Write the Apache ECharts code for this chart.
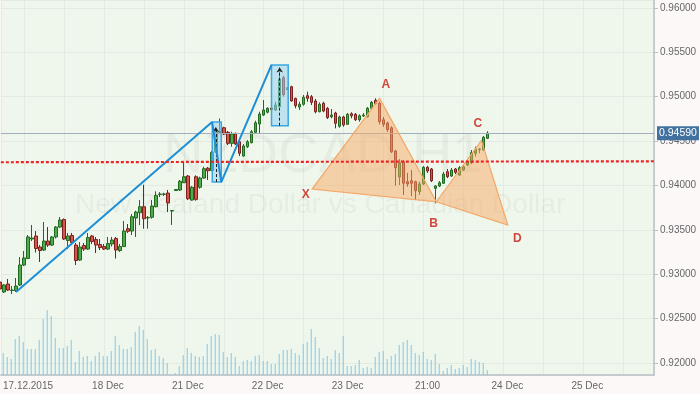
<!DOCTYPE html>
<html><head><meta charset="utf-8">
<script src="https://cdn.jsdelivr.net/npm/echarts@6/dist/echarts.min.js"></script>
<style>html,body{margin:0;padding:0;background:#fcf8f8}#c{width:700px;height:394px}</style>
</head><body><div id="c"></div>
<script>
// ---- data ----
const firstX = 4; // x index of the first (partially visible) H1 bar
const opens = [0.92912,0.92800,0.92890,0.92817,0.92817,0.92879,0.93104,0.93177,0.93397,0.93431,0.93307,0.93273,0.93374,0.93329,0.93420,0.93532,0.93617,0.93380,0.93437,0.93329,0.93160,0.93324,0.93284,0.93431,0.93391,0.93335,0.93312,0.93284,0.93341,0.93403,0.93267,0.93312,0.93513,0.93487,0.93634,0.93693,0.93761,0.93634,0.93642,0.93761,0.93898,0.93901,0.93915,0.93712,0.93944,0.93949,0.94031,0.94107,0.93836,0.94099,0.93980,0.94084,0.94194,0.94169,0.94377,0.94597,0.94651,0.94599,0.94475,0.94588,0.94493,0.94332,0.94437,0.94482,0.94599,0.94693,0.94794,0.94825,0.94873,0.94851,0.94888,0.95215,0.95079,0.95113,0.94982,0.94884,0.94915,0.95012,0.95000,0.94952,0.94831,0.94926,0.94870,0.94775,0.94817,0.94667,0.94772,0.94689,0.94809,0.94802,0.94741,0.94783,0.94775,0.94870,0.94960,0.94926,0.94741,0.94704,0.94651,0.94389,0.94096,0.94268,0.94043,0.94054,0.94043,0.93930,0.94017,0.94205,0.94186,0.93968,0.93994,0.94025,0.94155,0.94107,0.94186,0.94118,0.94174,0.94231,0.94257,0.94363,0.94405,0.94400,0.94532];
const closes = [0.92834,0.92879,0.92822,0.92822,0.92867,0.93104,0.93183,0.93420,0.93408,0.93290,0.93267,0.93374,0.93329,0.93420,0.93532,0.93611,0.93397,0.93431,0.93358,0.93155,0.93307,0.93284,0.93414,0.93369,0.93329,0.93301,0.93284,0.93346,0.93386,0.93273,0.93312,0.93487,0.93484,0.93648,0.93701,0.93761,0.93626,0.93640,0.93769,0.93889,0.93904,0.93904,0.93803,0.93718,0.93955,0.94047,0.94099,0.93851,0.93980,0.93844,0.94084,0.94189,0.94167,0.94372,0.94603,0.94608,0.94580,0.94475,0.94580,0.94467,0.94363,0.94445,0.94493,0.94606,0.94707,0.94805,0.94851,0.94870,0.94854,0.94907,0.95200,0.95023,0.95102,0.94952,0.94899,0.94915,0.94994,0.94982,0.94937,0.94831,0.94915,0.94839,0.94764,0.94794,0.94701,0.94772,0.94682,0.94802,0.94786,0.94741,0.94786,0.94794,0.94870,0.94937,0.94922,0.94719,0.94689,0.94629,0.94381,0.94200,0.94253,0.94025,0.94017,0.94025,0.93941,0.94017,0.94205,0.94163,0.94054,0.93994,0.94031,0.94129,0.94099,0.94174,0.94149,0.94200,0.94212,0.94268,0.94369,0.94408,0.94411,0.94543,0.94590];
const lows = [0.92811,0.92789,0.92811,0.92777,0.92800,0.92867,0.93093,0.93172,0.93374,0.93245,0.93138,0.93262,0.93307,0.93318,0.93403,0.93521,0.93386,0.93284,0.93341,0.93104,0.93149,0.93262,0.93273,0.93341,0.93239,0.93273,0.93273,0.93273,0.93312,0.93177,0.93251,0.93307,0.93465,0.93442,0.93420,0.93555,0.93513,0.93513,0.93626,0.93754,0.93870,0.93881,0.93701,0.93555,0.93938,0.93938,0.94028,0.93836,0.93829,0.93829,0.93964,0.94077,0.94062,0.94164,0.94366,0.94580,0.94569,0.94456,0.94437,0.94456,0.94332,0.94325,0.94422,0.94475,0.94588,0.94588,0.94783,0.94813,0.94851,0.94839,0.94884,0.95000,0.95076,0.94944,0.94870,0.94851,0.94899,0.94944,0.94907,0.94813,0.94825,0.94825,0.94749,0.94757,0.94644,0.94651,0.94662,0.94682,0.94757,0.94727,0.94719,0.94772,0.94764,0.94854,0.94907,0.94689,0.94659,0.94606,0.94366,0.93998,0.94005,0.93893,0.93986,0.93881,0.93836,0.93893,0.94005,0.94141,0.94039,0.93799,0.93983,0.94017,0.94084,0.94096,0.94129,0.94107,0.94164,0.94219,0.94242,0.94325,0.94363,0.94389,0.94524];
const highs = [0.92958,0.92890,0.92946,0.92867,0.92958,0.93194,0.93262,0.93442,0.93555,0.93487,0.93329,0.93589,0.93532,0.93431,0.93543,0.93645,0.93628,0.93465,0.93465,0.93352,0.93363,0.93352,0.93465,0.93442,0.93420,0.93397,0.93341,0.93420,0.93420,0.93420,0.93341,0.93600,0.93566,0.93679,0.93716,0.93836,0.94009,0.93656,0.93836,0.93934,0.93926,0.93918,0.93949,0.93724,0.93960,0.94062,0.94268,0.94118,0.93994,0.94115,0.94099,0.94212,0.94208,0.94389,0.94648,0.94755,0.94662,0.94614,0.94606,0.94595,0.94512,0.94467,0.94512,0.94625,0.94730,0.94831,0.94963,0.94881,0.94876,0.94944,0.95279,0.95237,0.95110,0.95124,0.94989,0.94944,0.95020,0.95057,0.95020,0.94975,0.94937,0.94944,0.94884,0.94862,0.94831,0.94786,0.94786,0.94817,0.94825,0.94817,0.94802,0.94817,0.94884,0.94952,0.94982,0.94944,0.94772,0.94719,0.94667,0.94403,0.94298,0.94287,0.94141,0.94174,0.94054,0.94043,0.94219,0.94219,0.94197,0.94005,0.94050,0.94152,0.94186,0.94197,0.94197,0.94219,0.94231,0.94287,0.94400,0.94437,0.94419,0.94558,0.94611];
const volumeFirstX = 5;
const volumes = [22,18,16,36,39,33,26,26,26,35,56,65,59,37,27,27,29,35,13,24,18,19,14,19,23,19,19,24,39,30,26,26,28,43,49,45,36,25,26,19,17,12,0,2,9,20,27,22,19,18,19,31,39,41,40,
23,18,22,18,9,14,15,14,19,20,14,14,11,11,21,25,25,26,22,20,31,33,46,38,27,17,19,16,25,22,39,9,9,10,15,7,8,7,18,23,24,16,19,21,30,33,35,30,22,20,23,16,15,21,11,4,7,10,6,7,
10,8,16,15,13,12,5];
const xTickValues = [10,30,50,70,90,110,130,150];
const xTickLabels = ['17.12.2015','18 Dec','21 Dec','22 Dec','23 Dec','21:00','24 Dec','25 Dec'];
const lastPrice = 0.94590;
// blue zigzag [x, price]
const zigzag = [[8,0.92800],[57.08,0.94715],[59.38,0.94039],[71.95,0.95358]];
// highlighted boxes [x1, price1, x2, price2]
const boxes = [[57.13,0.94715,59.38,0.94039],[71.95,0.95358,76.13,0.94674]];
// dashed vertical markers [x, priceBottom, priceTop]
const vMarkers = [[58,0.94039,0.94659],[74,0.94674,0.95330]];
// harmonic pattern points
const patX = [82.1,0.93960], patA = [99.0,0.94982], patB = [113.2,0.93817], patC = [124.5,0.94507], patD = [131.1,0.93555];
const triangles = [[patX,patA,patB],[patB,patC,patD]];
const pointLabels = [[80.5,0.93893,'X'],[100.6,0.95132,'A'],[112.5,0.93574,'B'],[123.6,0.94701,'C'],[133.5,0.93400,'D']];
// red dotted trend line [x, price]
const redLine = [[4.2,0.94262],[167.7,0.94273]];

// ---- chart ----
const xMin = 4.2, xMax = 167.7, yMin = 0.918648, yMax = 0.960901;
const FONT = 'Liberation Sans, Arial, sans-serif';
const candleData = opens.map((o,k)=>[firstX+k, o, closes[k], lows[k], highs[k]]);
const volData = volumes.map((v,k)=>[volumeFirstX+k, v]);

const chart = echarts.init(document.getElementById('c'));
chart.setOption({
  animation:false,
  backgroundColor:'#fcf8f8',
  textStyle:{fontFamily:FONT},
  graphic:[
    {type:'text', z:1, x:163, y:157, style:{text:'NZDCAD,H1', fontSize:56, fontFamily:FONT, fill:'rgba(0,0,0,0.04)', align:'left', verticalAlign:'middle'}},
    {type:'text', z:1, x:75, y:205, style:{text:'New Zealand Dollar vs Canadian Dollar', fontSize:28, fontFamily:FONT, fill:'rgba(0,0,0,0.04)', align:'left', verticalAlign:'middle'}}
  ],
  grid:[
    {left:0, right:46, top:0, bottom:19, show:true, backgroundColor:'#eff6eb', borderWidth:0},
    {left:0, right:46, bottom:19, height:100}
  ],
  xAxis:[
    {type:'value', gridIndex:0, min:xMin, max:xMax, minInterval:10, maxInterval:10,
     axisLine:{show:true, lineStyle:{color:'#b9c0c6', width:1.5}}, axisTick:{show:false},
     splitLine:{show:true, lineStyle:{color:'#e3eae1', width:1}},
     axisLabel:{show:true, color:'#666', fontSize:10, fontFamily:FONT, margin:6, padding:[0,0,0,8],
       showMinLabel:false, showMaxLabel:false,
       formatter:v=>{const r=Math.round(v); if(Math.abs(v-r)>1e-6) return ''; const k=xTickValues.indexOf(r); return k<0?'':xTickLabels[k];}}},
    {type:'value', gridIndex:1, min:xMin, max:xMax, show:false}
  ],
  yAxis:[
    {type:'value', gridIndex:0, position:'right', min:yMin, max:yMax, minInterval:0.005, maxInterval:0.005, scale:true,
     axisLine:{show:true, lineStyle:{color:'#b9c0c6', width:1.5}},
     axisTick:{show:true, length:4, lineStyle:{color:'#b9c0c6'}},
     splitLine:{show:true, lineStyle:{color:'#e3eae1', width:1}},
     axisLabel:{color:'#666', fontSize:10, fontFamily:FONT, margin:6, showMinLabel:false, showMaxLabel:false,
       formatter:v=>{const q=v*200; return Math.abs(q-Math.round(q))<1e-6 ? v.toFixed(5) : '';}}},
    {type:'value', gridIndex:1, min:0, max:100, show:false}
  ],
  series:[
    {type:'bar', xAxisIndex:1, yAxisIndex:1, data:volData, barWidth:1, itemStyle:{color:'#85c6ea'}, z:2},
    {type:'candlestick', xAxisIndex:0, yAxisIndex:0, data:candleData, barWidth:3, z:3,
     itemStyle:{color:'#4dab4d', color0:'#d6564a', borderColor:'#1f6a1f', borderColor0:'#7d1f1f', borderWidth:1}},
    {type:'custom', xAxisIndex:0, yAxisIndex:0, z:4, data:boxes,
     renderItem:(params, api)=>{
       const p1 = api.coord([api.value(0), api.value(1)]);
       const p2 = api.coord([api.value(2), api.value(3)]);
       return {type:'rect', shape:{x:Math.min(p1[0],p2[0]), y:Math.min(p1[1],p2[1]), width:Math.abs(p2[0]-p1[0]), height:Math.abs(p2[1]-p1[1])},
         style:{fill:'rgba(150,210,240,0.55)', stroke:'#3aa7e2', lineWidth:1.5}};
     }},
    {type:'lines', coordinateSystem:'cartesian2d', xAxisIndex:0, yAxisIndex:0, z:5,
     symbol:['none','arrow'], symbolSize:5,
     lineStyle:{color:'#222', width:1, type:[3,2], opacity:1},
     data:vMarkers.map(m=>({coords:[[m[0],m[1]],[m[0],m[2]]]}))},
    {type:'custom', xAxisIndex:0, yAxisIndex:0, z:6, data:triangles.map(t=>[t[0][0],t[0][1],t[1][0],t[1][1],t[2][0],t[2][1]]),
     renderItem:(params, api)=>{
       const pts = [0,2,4].map(j=>api.coord([api.value(j), api.value(j+1)]));
       return {type:'polygon', shape:{points:pts}, style:{fill:'rgba(247,170,100,0.5)', stroke:'#f4a766', lineWidth:1.2}};
     }},
    {type:'line', xAxisIndex:0, yAxisIndex:0, z:7, data:zigzag, symbol:'none', lineStyle:{color:'#1c8fd6', width:2}},
    {type:'line', xAxisIndex:0, yAxisIndex:0, z:8, data:redLine, symbol:'none', lineStyle:{color:'#ec2424', width:2.2, type:[3,2]},
     markLine:{silent:true, symbol:'none', precision:5,
       data:[[{coord:[xMin, lastPrice], value:lastPrice},{coord:[xMax, lastPrice], value:lastPrice}]],
       lineStyle:{color:'#9fb0bc', width:1, type:'solid'},
       label:{show:true, position:'end', distance:3, formatter:()=>lastPrice.toFixed(5), color:'#fff', fontSize:10.5, fontFamily:FONT,
              backgroundColor:'#41719f', padding:[2,2,1,2]}}},
    {type:'scatter', xAxisIndex:0, yAxisIndex:0, z:9, symbol:'circle', symbolSize:0, data:pointLabels,
     label:{show:true, position:'inside', formatter:p=>p.value[2], color:'#cf473d', fontWeight:'bold', fontSize:12, fontFamily:FONT, opacity:1}}
  ]
});
</script>
</body></html>
